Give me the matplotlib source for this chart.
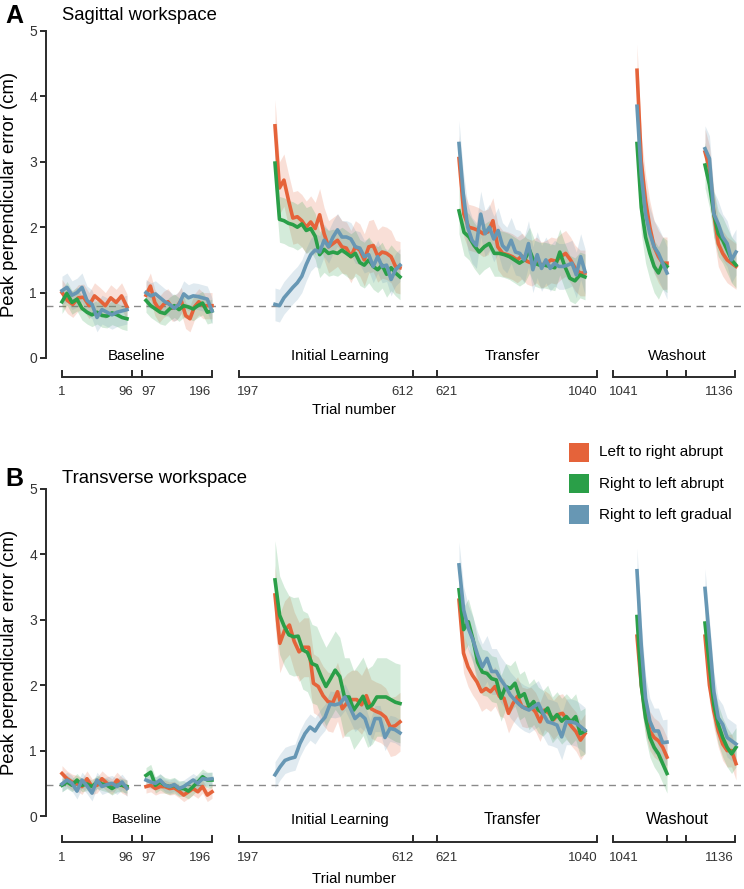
import numpy as np
import matplotlib
matplotlib.use('Agg')
import matplotlib.pyplot as plt
from matplotlib.patches import Rectangle

plt.rcParams['font.family'] = ['Liberation Sans', 'DejaVu Sans']

# ---- series / labels ----
series_names = ['Left to right abrupt', 'Right to left abrupt', 'Right to left gradual']
colors = ['#E5633A', '#2A9F48', '#6797B4']
phase_names = ['Baseline', 'Initial Learning', 'Transfer', 'Washout']
trial_labels = ['1', '96', '97', '196', '197', '612', '621', '1040', '1041', '1136']

# ---- A: sagittal workspace (binned mean error, cm) ----
sag_lr_base1 = [1.0, 0.88, 0.82, 0.92, 0.93, 0.8, 0.95, 0.88, 0.8, 0.92, 0.85, 0.95, 0.78]
sag_rl_base1 = [0.86, 0.99, 0.85, 0.9, 0.76, 0.7, 0.66, 0.7, 0.65, 0.64, 0.69, 0.66, 0.62, 0.6]
sag_gr_base1 = [1.03, 1.08, 0.96, 1.0, 1.08, 0.88, 0.82, 0.62, 0.74, 0.7, 0.66, 0.7, 0.72, 0.74]
sag_lr_base2 = [0.96, 1.1, 0.85, 0.74, 0.82, 0.86, 0.76, 0.78, 0.88, 0.65, 0.6, 0.78, 0.86, 0.8, 0.8, 0.8]
sag_rl_base2 = [0.88, 0.8, 0.75, 0.7, 0.68, 0.75, 0.8, 0.74, 0.8, 0.78, 0.75, 0.8, 0.84, 0.7, 0.72]
sag_gr_base2 = [1.0, 0.95, 0.98, 0.92, 0.86, 0.82, 0.76, 0.82, 0.98, 0.92, 0.95, 0.94, 0.92, 0.9, 0.72]
sag_lr_learn = [3.55, 2.6, 2.72, 2.42, 2.14, 2.16, 2.1, 2.0, 2.08, 1.98, 2.19, 1.9, 1.7, 1.75, 1.8,
                1.7, 1.68, 1.55, 1.7, 1.65, 1.5, 1.7, 1.72, 1.56, 1.62, 1.6, 1.55, 1.4, 1.38]
sag_rl_learn = [2.98, 2.12, 2.1, 2.06, 2.04, 2.0, 2.05, 1.95, 1.98, 1.86, 1.58, 1.66, 1.6, 1.62, 1.6,
                1.65, 1.6, 1.55, 1.6, 1.46, 1.42, 1.5, 1.4, 1.35, 1.42, 1.28, 1.38, 1.3, 1.24]
sag_gr_learn = [0.82, 0.8, 0.92, 1.0, 1.08, 1.15, 1.25, 1.43, 1.58, 1.65, 1.62, 1.8, 1.7, 1.85, 1.96,
                1.85, 1.85, 1.82, 1.7, 1.68, 1.55, 1.58, 1.4, 1.55, 1.4, 1.42, 1.2, 1.35, 1.42]
sag_lr_transfer = [3.05, 2.2, 2.0, 1.98, 1.95, 1.9, 1.93, 2.1, 1.7, 1.6, 1.58, 1.55, 1.5, 1.56,
                   1.48, 1.45, 1.5, 1.42, 1.45, 1.5, 1.48, 1.55, 1.6, 1.5, 1.37, 1.3, 1.3]
sag_rl_transfer = [2.25, 1.92, 1.85, 1.72, 1.62, 1.7, 1.75, 1.6, 1.6, 1.58, 1.55, 1.5, 1.45,
                   1.5, 1.65, 1.45, 1.42, 1.42, 1.4, 1.38, 1.62, 1.4, 1.22, 1.18, 1.27, 1.24]
sag_gr_transfer = [3.28, 2.5, 2.0, 1.8, 1.72, 2.2, 1.9, 2.0, 1.82, 1.95, 1.72, 1.65, 1.8, 1.62, 1.6,
                   1.5, 1.75, 1.35, 1.58, 1.37, 1.5, 1.37, 1.45, 1.4, 1.4, 1.42, 1.45, 1.27, 1.55, 1.32]
sag_lr_wash1 = [4.4, 3.0, 2.4, 2.0, 1.7, 1.55, 1.45, 1.45]
sag_rl_wash1 = [3.28, 2.3, 1.85, 1.6, 1.4, 1.3, 1.45, 1.4]
sag_gr_wash1 = [3.85, 2.8, 2.2, 1.9, 1.7, 1.6, 1.45, 1.3]
sag_lr_wash2 = [3.15, 2.9, 2.2, 1.75, 1.6, 1.5, 1.45, 1.4]
sag_rl_wash2 = [2.95, 2.65, 2.2, 1.9, 1.8, 1.65, 1.5, 1.42]
sag_gr_wash2 = [3.2, 3.05, 2.2, 2.05, 1.85, 1.75, 1.5, 1.62]
# band half-widths per block (base1, base2, learn, transfer, wash1, wash2)
sag_lr_sem = [0.2, 0.2, 0.4, 0.35, 0.4, 0.35]
sag_rl_sem = [0.18, 0.18, 0.35, 0.35, 0.4, 0.35]
sag_gr_sem = [0.22, 0.2, 0.25, 0.35, 0.4, 0.35]
sag_ref = 0.8

# ---- B: transverse workspace ----
tra_lr_base1 = [0.65, 0.57, 0.52, 0.5, 0.45, 0.57, 0.45, 0.47, 0.57, 0.5, 0.45, 0.55, 0.47, 0.43]
tra_rl_base1 = [0.47, 0.52, 0.47, 0.55, 0.47, 0.49, 0.45, 0.52, 0.49, 0.47, 0.42, 0.47, 0.47, 0.45]
tra_gr_base1 = [0.49, 0.55, 0.5, 0.38, 0.55, 0.46, 0.35, 0.55, 0.45, 0.48, 0.5, 0.45, 0.52, 0.42]
tra_lr_base2 = [0.45, 0.47, 0.42, 0.45, 0.45, 0.42, 0.43, 0.38, 0.32, 0.37, 0.42, 0.37, 0.45, 0.32, 0.37]
tra_rl_base2 = [0.62, 0.67, 0.47, 0.52, 0.47, 0.45, 0.47, 0.42, 0.42, 0.38, 0.45, 0.52, 0.6, 0.55, 0.55]
tra_gr_base2 = [0.55, 0.52, 0.5, 0.55, 0.47, 0.45, 0.48, 0.42, 0.45, 0.5, 0.55, 0.5, 0.57, 0.56, 0.57]
tra_lr_learn = [3.38, 2.64, 2.84, 2.92, 2.67, 2.51, 2.58, 2.58, 2.03, 1.98, 1.84, 1.75, 1.73, 1.9,
                1.64, 1.73, 1.78, 1.78, 1.7, 1.84, 1.64, 1.6, 1.57, 1.51, 1.36, 1.38, 1.44]
tra_rl_learn = [3.61, 3.07, 2.9, 2.77, 2.74, 2.75, 2.54, 2.5, 2.33, 2.3, 2.13, 1.98, 2.1, 2.23,
                2.13, 1.82, 1.82, 1.62, 1.72, 1.83, 1.65, 1.7, 1.82, 1.82, 1.82, 1.78, 1.74, 1.72]
tra_gr_learn = [0.63, 0.75, 0.85, 0.88, 0.9, 1.11, 1.26, 1.36, 1.3, 1.42, 1.51, 1.71, 1.7, 1.72,
                1.82, 1.66, 1.49, 1.56, 1.49, 1.26, 1.49, 1.49, 1.2, 1.34, 1.32, 1.27]
tra_lr_transfer = [3.3, 2.49, 2.28, 2.15, 2.05, 1.9, 1.95, 1.9, 1.98, 1.83, 1.8, 1.57, 1.72, 1.83,
                   1.67, 1.65, 1.67, 1.59, 1.44, 1.62, 1.57, 1.47, 1.55, 1.57, 1.47, 1.37, 1.29, 1.16, 1.26]
tra_rl_transfer = [3.46, 2.85, 2.97, 2.7, 2.35, 2.2, 2.18, 2.1, 2.08, 1.8, 1.98, 1.95, 2.03, 1.82,
                   1.87, 1.67, 1.75, 1.62, 1.57, 1.65, 1.47, 1.55, 1.45, 1.52, 1.44, 1.52, 1.26, 1.3]
tra_gr_transfer = [3.84, 3.15, 2.87, 2.69, 2.46, 2.28, 2.41, 2.21, 2.21, 2.08, 1.98, 1.85, 1.77, 1.7,
                   1.65, 1.62, 1.67, 1.72, 1.57, 1.44, 1.42, 1.39, 1.21, 1.44, 1.44, 1.42, 1.37, 1.31]
tra_lr_wash1 = [2.75, 2.0, 1.55, 1.3, 1.2, 1.15, 1.05, 0.9]
tra_rl_wash1 = [3.05, 2.0, 1.5, 1.2, 1.05, 0.95, 0.8, 0.65]
tra_gr_wash1 = [3.75, 2.6, 1.8, 1.45, 1.3, 1.3, 1.12, 1.13]
tra_lr_wash2 = [2.75, 2.0, 1.6, 1.3, 1.1, 1.0, 1.0, 0.8]
tra_rl_wash2 = [2.95, 2.3, 1.7, 1.4, 1.2, 1.05, 0.95, 1.05]
tra_gr_wash2 = [3.48, 2.7, 1.9, 1.5, 1.4, 1.2, 1.15, 1.1]
tra_lr_sem = [0.12, 0.1, 0.45, 0.3, 0.3, 0.25]
tra_rl_sem = [0.1, 0.12, 0.6, 0.35, 0.3, 0.3]
tra_gr_sem = [0.12, 0.1, 0.2, 0.35, 0.35, 0.3]
tra_ref = 0.48

# ---- layout (horizontal positions on the broken trial axis, figure pixels) ----
W, H = 744, 889
block_span = [(62, 127), (146, 212), (275, 400), (459, 585), (637, 667), (705, 736)]
bracket_span = [(62, 212), (239, 597), (613, 735)]
bracket_ticks = [62, 132, 142, 212, 239, 413, 437, 597, 613, 667, 686, 735]
label_x = [62, 133, 141, 211, 237, 414, 435, 598, 609, 734]
label_ha = ['center', 'right', 'left', 'right', 'left', 'right', 'left', 'right', 'left', 'right']
phase_x = [137, 340, 512, 677]

fig = plt.figure(figsize=(W / 100, H / 100), dpi=100)
dark = '#2b2b2b'


def draw_panel(top, bottom, series, sems, ref, letter, title, title_y,
               phase_y, phase_sizes, bracket_y, label_y, xlabel_y):
    ax = fig.add_axes([46 / W, 1 - bottom / H, (W - 46) / W, (bottom - top) / H])
    ax.set_xlim(46, W)
    ax.set_ylim(0, 5)
    ax.axhline(ref, color='#8a8a8a', lw=1.0, ls=(0, (5, 4)), zorder=1)

    for k in range(3):
        for b, (x0, x1) in enumerate(block_span):
            y = np.array(series[k][b])
            x = np.linspace(x0, x1, len(y))
            ax.fill_between(x, y - sems[k][b], y + sems[k][b], color=colors[k],
                            alpha=0.2, lw=0, zorder=2)
    for k in range(3):
        for b, (x0, x1) in enumerate(block_span):
            y = np.array(series[k][b])
            x = np.linspace(x0, x1, len(y))
            ax.plot(x, y, color=colors[k], lw=2.6, zorder=3 + k, clip_on=False)

    for s in ['top', 'right', 'bottom']:
        ax.spines[s].set_visible(False)
    ax.spines['left'].set_color(dark)
    ax.spines['left'].set_linewidth(1.4)
    ax.set_yticks([0, 1, 2, 3, 4, 5])
    ax.tick_params(axis='y', length=4.5, width=1.4, color=dark, labelsize=10,
                   labelcolor='#333333', pad=2)
    ax.set_xticks([])

    # broken trial axis with brackets
    tick_h = 0.09
    for x0, x1 in bracket_span:
        ax.plot([x0, x1], [bracket_y, bracket_y], color=dark, lw=1.4, clip_on=False,
                solid_capstyle='butt')
    for xt in bracket_ticks:
        ax.plot([xt, xt], [bracket_y, bracket_y + tick_h], color=dark, lw=1.4, clip_on=False)
    for xt, lab, ha in zip(label_x, trial_labels, label_ha):
        ax.text(xt, label_y, lab, ha=ha, va='center', fontsize=9.5, color='#333333')
    ax.text(354, xlabel_y, 'Trial number', ha='center', va='center', fontsize=10.8)
    for xp, name, fs in zip(phase_x, phase_names, phase_sizes):
        ax.text(xp, phase_y, name, ha='center', va='center', fontsize=fs)

    fig.text(5 / W, 1 - title_y / H, letter, fontsize=18, fontweight='bold', va='center')
    fig.text(62 / W, 1 - title_y / H, title, fontsize=13.3, va='center')
    fig.text(10 / W, 1 - (top + bottom) / 2 / H, 'Peak perpendicular error (cm)',
             rotation=90, ha='center', va='center', fontsize=13.3)
    return ax


sag_series = [
    [sag_lr_base1, sag_lr_base2, sag_lr_learn, sag_lr_transfer, sag_lr_wash1, sag_lr_wash2],
    [sag_rl_base1, sag_rl_base2, sag_rl_learn, sag_rl_transfer, sag_rl_wash1, sag_rl_wash2],
    [sag_gr_base1, sag_gr_base2, sag_gr_learn, sag_gr_transfer, sag_gr_wash1, sag_gr_wash2],
]
tra_series = [
    [tra_lr_base1, tra_lr_base2, tra_lr_learn, tra_lr_transfer, tra_lr_wash1, tra_lr_wash2],
    [tra_rl_base1, tra_rl_base2, tra_rl_learn, tra_rl_transfer, tra_rl_wash1, tra_rl_wash2],
    [tra_gr_base1, tra_gr_base2, tra_gr_learn, tra_gr_transfer, tra_gr_wash1, tra_gr_wash2],
]

draw_panel(31, 358, sag_series, [sag_lr_sem, sag_rl_sem, sag_gr_sem], sag_ref,
           'A', 'Sagittal workspace', 16,
           0.03, [10.8, 10.8, 10.8, 10.8], -0.29, -0.52, -0.80)
draw_panel(489, 816, tra_series, [tra_lr_sem, tra_rl_sem, tra_gr_sem], tra_ref,
           'B', 'Transverse workspace', 479,
           -0.06, [9.4, 10.8, 11.2, 11.6], -0.40, -0.635, -0.965)

# legend
for i, (name, c) in enumerate(zip(series_names, colors)):
    yc = 452.5 + i * 31.2
    fig.add_artist(Rectangle((569 / W, 1 - (yc + 9.5) / H), 20 / W, 19 / H,
                             transform=fig.transFigure, color=c, lw=0))
    fig.text(599 / W, 1 - yc / H, name, fontsize=11, va='center')

fig.savefig('out.png', dpi=100)
